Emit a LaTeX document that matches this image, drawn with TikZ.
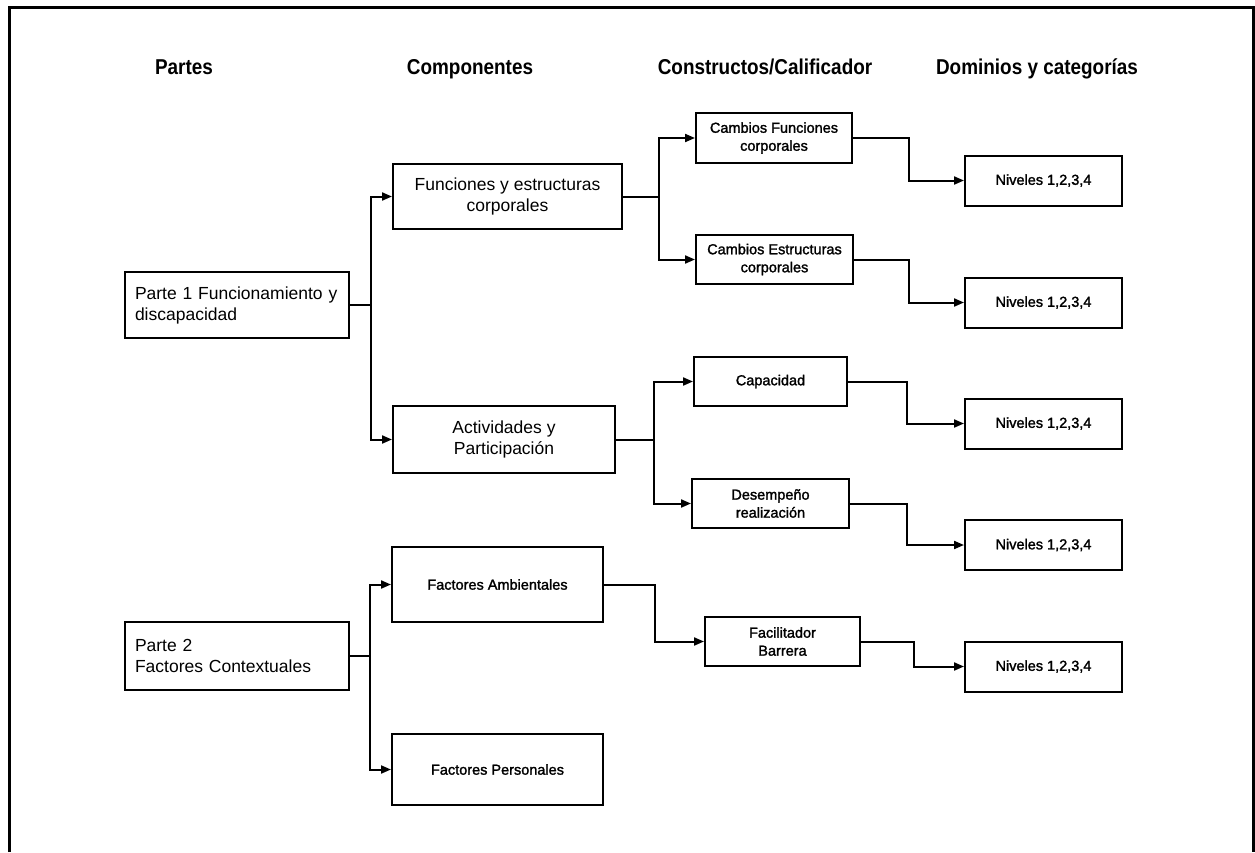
\documentclass[tikz,border=0pt]{standalone}
\usepackage{fontspec}
\setmainfont{Liberation Sans}
\newfontfamily\headfont{Liberation Sans}[FakeStretch=0.88]
\newfontfamily\smallfont{Liberation Sans}[FakeBold=1.6]
\usetikzlibrary{arrows.meta}
\begin{document}
\begin{tikzpicture}[x=1pt,y=-1pt,
  box/.style={draw, line width=2pt, inner sep=0pt, align=center},
  bigtxt/.style={font=\fontsize{17.5}{21}\selectfont},
  smalltxt/.style={font=\smallfont\fontsize{14.5}{18}\selectfont},
  head/.style={font=\headfont\bfseries\fontsize{21.5}{26}\selectfont, anchor=base},
  conn/.style={line width=2pt, -{Triangle[length=10pt,width=8pt]}},
  lvl/.style={box, smalltxt, minimum width=157pt, minimum height=50pt},
]
\useasboundingbox (0,0) rectangle (1255,852);
\draw[line width=3pt] (9,852) -- (9,7) -- (1253,7) -- (1253,852);

% headers
\node[head] (h1) at (184,74) {Partes};
\node[head] (h2) at (470,74) {Componentes};
\node[head] (h3) at (765,74) {Constructos/Calificador};
\node[head] (h4) at (1037,74) {Dominios y categorías};

% parts
\node[box, bigtxt, minimum width=224pt, minimum height=66pt, text width=204pt, align=left] (p1) at (237,305) {Parte 1 Funcionamiento y\\discapacidad};
\node[box, bigtxt, minimum width=224pt, minimum height=68pt, text width=204pt, align=left] (p2) at (237,656) {Parte 2\\Factores Contextuales};

% components
\node[box, bigtxt, minimum width=229pt, minimum height=65pt] (fe) at (507.5,196.5) {Funciones y estructuras\\corporales};
\node[box, bigtxt, minimum width=222pt, minimum height=67pt] (ap) at (504,439.5) {Actividades y\\Participación};
\node[box, smalltxt, minimum width=211pt, minimum height=75pt] (fa) at (497.5,584.5) {Factores Ambientales};
\node[box, smalltxt, minimum width=211pt, minimum height=71pt] (fp) at (497.5,769.5) {Factores Personales};

% constructs
\node[box, smalltxt, minimum width=156pt, minimum height=50pt] (cf) at (774,138) {Cambios Funciones\\corporales};
\node[box, smalltxt, minimum width=157pt, minimum height=49pt] (ce) at (774.5,259.5) {Cambios Estructuras\\corporales};
\node[box, smalltxt, minimum width=153pt, minimum height=49pt] (ca) at (770.5,381.5) {Capacidad};
\node[box, smalltxt, minimum width=157pt, minimum height=49pt] (de) at (770.5,503.5) {Desempeño\\realización};
\node[box, smalltxt, minimum width=155pt, minimum height=49pt] (fb) at (782.5,641.5) {Facilitador\\Barrera};

% levels
\node[lvl] (n1) at (1043.5,180.5) {Niveles 1,2,3,4};
\node[lvl] (n2) at (1043.5,302.5) {Niveles 1,2,3,4};
\node[lvl] (n3) at (1043.5,423.5) {Niveles 1,2,3,4};
\node[lvl] (n4) at (1043.5,545) {Niveles 1,2,3,4};
\node[lvl] (n5) at (1043.5,666.5) {Niveles 1,2,3,4};

% connectors
\draw[conn] (p1.east) -- ++(21,0) |- (fe.west);
\draw[conn] (p1.east) -- ++(21,0) |- (ap.west);
\draw[conn] (p2.east) -- ++(20,0) |- (fa.west);
\draw[conn] (p2.east) -- ++(20,0) |- (fp.west);
\draw[conn] (fe.east) -- ++(36,0) |- (cf.west);
\draw[conn] (fe.east) -- ++(36,0) |- (ce.west);
\draw[conn] (ap.east) -- ++(38,0) |- (ca.west);
\draw[conn] (ap.east) -- ++(38,0) |- (de.west);
\draw[conn] (fa.east) -- ++(51,0) |- (fb.west);
\draw[conn] (cf.east) -- ++(56,0) |- (n1.west);
\draw[conn] (ce.east) -- ++(55,0) |- (n2.west);
\draw[conn] (ca.east) -- ++(59,0) |- (n3.west);
\draw[conn] (de.east) -- ++(57,0) |- (n4.west);
\draw[conn] (fb.east) -- ++(53,0) |- (n5.west);
\end{tikzpicture}
\end{document}
